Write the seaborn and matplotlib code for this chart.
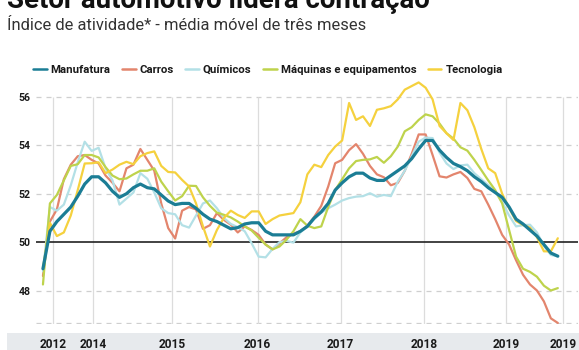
import numpy as np
import pandas as pd
import matplotlib
matplotlib.use("Agg")
import matplotlib.pyplot as plt
from matplotlib.patches import Rectangle
from matplotlib.lines import Line2D
import seaborn as sns

# ---------------- data ----------------
title = "Setor automotivo lidera contração"
subtitle = "Índice de atividade* - média móvel de três meses"
series_names = ["Manufatura", "Carros", "Químicos", "Máquinas e equipamentos", "Tecnologia"]
tick_labels = ["2012", "2014", "2015", "2016", "2017", "2018", "2019", "2019"]
tick_months = [1.5, 7.2, 18.6, 30.85, 42.8, 54.75, 66.6, 74.75]
y_ticks = [48, 50, 52, 54, 56]

manufatura = [48.9, 50.45, 50.85, 51.15, 51.45, 51.9, 52.4, 52.7, 52.7, 52.45,
              52.1, 51.85, 52.0, 52.25, 52.4, 52.25, 52.2, 51.95, 51.7, 51.55,
              51.6, 51.6, 51.4, 51.15, 50.95, 50.85, 50.7, 50.55, 50.6, 50.75,
              50.8, 50.8, 50.45, 50.3, 50.3, 50.3, 50.3, 50.45, 50.65, 51.0,
              51.25, 51.6, 52.15, 52.45, 52.7, 52.85, 52.85, 52.65, 52.55, 52.55,
              52.75, 52.95, 53.15, 53.45, 53.85, 54.2, 54.2, 53.8, 53.5, 53.25,
              53.12, 52.95, 52.7, 52.5, 52.25, 52.05, 51.85, 51.45, 50.95, 50.75,
              50.5, 50.25, 49.9, 49.55, 49.42]
carros = [48.6, 50.85, 51.35, 52.6, 53.2, 53.55, 53.6, 53.4, 53.25, 52.75,
          52.45, 52.1, 53.05, 53.2, 53.85, 53.4, 52.95, 51.6, 50.58, 50.15,
          51.3, 51.45, 51.35, 50.55, 50.7, 51.2, 50.92, 50.72, 50.4, 50.65,
          50.5, 50.3, 49.9, 49.7, 49.95, 50.2, 50.35, 50.45, 50.68, 51.05,
          51.5, 52.3, 53.26, 53.4, 53.8, 54.05, 53.65, 53.15, 52.8, 52.68,
          52.35, 52.45, 52.95, 53.65, 54.45, 54.45, 53.6, 52.72, 52.67, 52.8,
          52.9, 52.65, 52.2, 52.1, 51.55, 50.95, 50.3, 49.9, 49.25, 48.65,
          48.25, 48.0, 47.55, 46.85, 46.66]
quimicos = [48.8, 51.45, 51.3, 51.55, 52.35, 53.3, 54.15, 53.77, 53.9, 53.05,
            52.55, 51.55, 51.8, 52.05, 52.85, 52.62, 52.05, 51.4, 51.2, 51.15,
            50.7, 50.6, 51.1, 51.6, 51.72, 51.4, 51.0, 50.75, 50.62, 50.45,
            49.95, 49.4, 49.37, 49.72, 50.0, 50.05, 49.98, 50.4, 50.65, 50.95,
            51.22, 51.4, 51.55, 51.72, 51.82, 51.88, 51.9, 52.02, 51.88, 51.95,
            51.9, 52.5, 52.95, 53.55, 54.15, 54.32, 54.3, 53.7, 53.25, 53.02,
            53.17, 53.2, 52.85, 52.6, 52.35, 52.07, 51.65, 51.1, 50.65, 50.7,
            50.72, 50.4, 49.85, 49.47, 49.41]
maquinas = [48.25, 51.6, 51.95, 52.55, 53.15, 53.22, 53.6, 53.6, 53.5, 53.1,
            52.75, 52.6, 52.63, 52.8, 52.95, 52.95, 53.05, 52.5, 52.1, 51.72,
            51.9, 52.33, 52.32, 51.85, 51.5, 51.22, 51.13, 51.02, 50.85, 50.65,
            50.48, 50.18, 49.9, 49.7, 49.82, 50.1, 50.45, 50.95, 50.68, 50.58,
            50.65, 51.45, 52.15, 52.6, 53.05, 53.35, 53.4, 53.42, 53.52, 53.28,
            53.55, 53.95, 54.58, 54.75, 55.05, 55.28, 55.2, 54.9, 54.5, 54.28,
            53.92, 53.78, 53.4, 52.98, 52.55, 52.15, 51.6, 50.5, 49.4, 48.9,
            48.77, 48.57, 48.2, 48.0, 48.1]
tecnologia = [48.9, 50.8, 50.25, 50.4, 51.1, 52.15, 53.25, 53.26, 53.3, 52.85,
              53.0, 53.2, 53.32, 53.22, 53.55, 53.68, 53.75, 53.15, 52.9, 52.88,
              52.57, 52.3, 51.6, 50.65, 49.82, 50.5, 51.0, 51.3, 51.12, 51.0,
              51.27, 51.27, 50.75, 50.95, 51.1, 51.15, 51.2, 51.65, 52.8, 53.2,
              53.1, 53.6, 53.95, 54.2, 55.75, 55.05, 55.2, 54.8, 55.47, 55.53,
              55.62, 55.9, 56.3, 56.45, 56.6, 56.38, 55.9, 54.8, 54.5, 54.22,
              55.75, 55.45, 54.75, 53.85, 53.05, 52.85, 52.0, 51.4, 50.87, 50.71,
              50.6, 50.2, 49.62, 49.62, 50.16]

values = [manufatura, carros, quimicos, maquinas, tecnologia]
months = np.arange(len(manufatura))
df = pd.DataFrame({
    "mes": np.tile(months, len(series_names)),
    "indice": np.concatenate(values),
    "serie": np.repeat(series_names, len(months)),
})

# ---------------- style ----------------
sns.set_style("white")
NARROW = ["Liberation Sans Narrow", "Roboto", "DejaVu Sans"]
plt.rcParams["font.family"] = NARROW

colors = {
    "Manufatura": "#1b7d95",
    "Carros": "#e3856d",
    "Químicos": "#b3e0e6",
    "Máquinas e equipamentos": "#bed34c",
    "Tecnologia": "#f5d13e",
}
widths = {"Manufatura": 2.3, "Carros": 1.6, "Químicos": 1.6,
          "Máquinas e equipamentos": 1.6, "Tecnologia": 1.6}
draw_order = ["Carros", "Químicos", "Máquinas e equipamentos", "Tecnologia", "Manufatura"]

W, H = 579, 350
fig = plt.figure(figsize=(W / 100, H / 100), dpi=100)
fig.patch.set_facecolor("white")

x0, x1 = -1.0, 76.9
y0, y1 = 46.6, 56.7
ax_left, ax_right, ax_top, ax_bot = 36, 578, 80, 324.4
ax = fig.add_axes([ax_left / W, (H - ax_bot) / H, (ax_right - ax_left) / W, (ax_bot - ax_top) / H])
ax.set_xlim(x0, x1)
ax.set_ylim(y0, y1)
for s in ax.spines.values():
    s.set_visible(False)

# grid
for v in [48, 52, 54, 56]:
    ax.axhline(v, color="#cfcfcf", lw=0.9, ls=(0, (4, 4)), zorder=0)
ax.axhline(46.66, color="#cfcfcf", lw=0.9, ls=(0, (4, 4)), zorder=0)
ax.vlines(tick_months, y0, 56, color="#dcdcdc", lw=0.9, zorder=0)
ax.axhline(50, color="#222222", lw=1.2, zorder=1)

for name in draw_order:
    sns.lineplot(data=df[df["serie"] == name], x="mes", y="indice", ax=ax,
                 color=colors[name], lw=widths[name], zorder=3 if name != "Manufatura" else 4,
                 legend=False)
ax.set_xlabel("")
ax.set_ylabel("")

ax.set_yticks(y_ticks)
ax.set_yticklabels([str(v) for v in y_ticks], fontsize=7.6, fontweight="bold",
                   color="#1a1a1a", family=["Roboto", "DejaVu Sans"])
ax.set_xticks(tick_months)
ax.set_xticklabels(tick_labels, fontsize=8.6, fontweight="bold", color="#1a1a1a",
                   family=["Roboto", "DejaVu Sans"])
ax.tick_params(axis="y", length=0, pad=4)
ax.tick_params(axis="x", length=0, pad=10)

# grey band behind x labels
fig.patches.append(Rectangle((7 / W, 0), 1, 17 / H, transform=fig.transFigure,
                             facecolor="#e7eaed", edgecolor="none", zorder=-1))

# legend
handles = [Line2D([], [], color=colors[n], lw=1.8) for n in series_names]
fig.legend(handles, series_names, loc="center left", bbox_to_anchor=(33 / W, 1 - 70 / H),
           ncol=5, frameon=False, handlelength=1.2, handletextpad=0.35, columnspacing=1.0,
           prop={"family": NARROW, "weight": "bold", "size": 8.2}, labelcolor="#1a1a1a",
           borderaxespad=0, borderpad=0)

# title and subtitle
fig.text(7 / W, 1 - 8.5 / H, title, fontsize=19.9, fontweight="bold", color="#111111",
         va="baseline", ha="left", family=NARROW)
fig.text(7 / W, 1 - 30 / H, subtitle, fontsize=11.85, color="#333333",
         va="baseline", ha="left", family=NARROW)

fig.savefig("out.png", dpi=100)
